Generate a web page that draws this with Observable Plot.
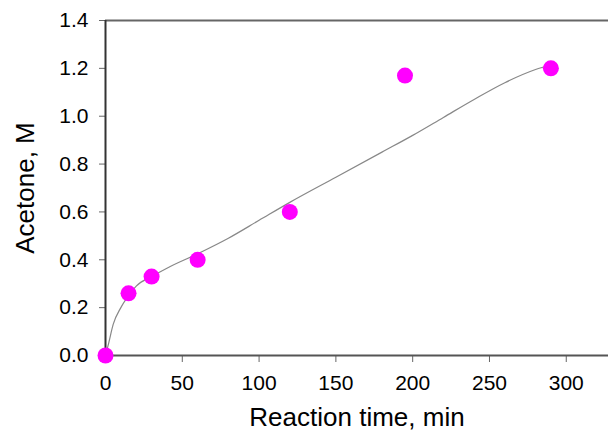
<!DOCTYPE html>
<html>
<head>
<meta charset="utf-8">
<script src="https://cdn.jsdelivr.net/npm/d3@7"></script>
<script src="https://cdn.jsdelivr.net/npm/@observablehq/plot@0.6"></script>
<style>
  html, body { margin: 0; padding: 0; background: #fff; }
</style>
</head>
<body>
<div id="chart"></div>
<script>
// Measured data points
const time = [0, 15, 30, 60, 120, 195, 290];
const acetone = [0, 0.26, 0.33, 0.40, 0.60, 1.17, 1.20];

// Fitted curve
const fitTime = [0, 2, 5, 10, 15, 20, 30, 40, 60, 80, 100, 120, 150, 180, 200, 220, 240, 260, 280, 290];
const fitAcetone = [0, 0.05, 0.13, 0.20, 0.25, 0.29, 0.33, 0.365, 0.425, 0.49, 0.565, 0.64, 0.745, 0.85, 0.92, 0.995, 1.07, 1.14, 1.195, 1.215];

// Ticks and labels
const xTicks = [0, 50, 100, 150, 200, 250, 300];
const yTicks = [0, 0.2, 0.4, 0.6, 0.8, 1.0, 1.2, 1.4];
const xLabel = "Reaction time, min";
const yLabel = "Acetone, M";

const points = time.map((t, i) => ({t, a: acetone[i]}));
const fit = fitTime.map((t, i) => ({t, a: fitAcetone[i]}));

const chart = Plot.plot({
  width: 608,
  height: 434,
  marginLeft: 105,
  marginRight: 0,
  marginTop: 20,
  marginBottom: 79,
  style: {fontFamily: "'Liberation Sans', Arial, sans-serif", fontSize: "21px", color: "#000", background: "#fff"},
  x: {domain: [0, 327.5]},
  y: {domain: [0, 1.4]},
  marks: [
    Plot.axisX({ticks: xTicks, tickSize: 7, tickPadding: 13, stroke: "#666", label: null, fontSize: 21, fill: "#000"}),
    Plot.axisY({ticks: yTicks, tickSize: 6, tickPadding: 11, stroke: "#666", label: null, fontSize: 21, fill: "#000", tickFormat: d => d.toFixed(1)}),
    Plot.ruleY([1.4], {stroke: "#666", strokeWidth: 2}),
    Plot.ruleY([0], {stroke: "#555", strokeWidth: 2}),
    Plot.ruleX([0], {stroke: "#333", strokeWidth: 2}),
    Plot.line(fit, {x: "t", y: "a", stroke: "#888", strokeWidth: 1.2, curve: "monotone-x"}),
    Plot.dot(points, {x: "t", y: "a", r: 8, fill: "#ff00ff", stroke: "none", clip: false}),
    Plot.text([xLabel], {frameAnchor: "bottom", dy: 62, lineAnchor: "middle", text: d => d, fontSize: 26, fill: "#000"}),
    Plot.text([yLabel], {frameAnchor: "left", dx: -80, rotate: -90, textAnchor: "middle", lineAnchor: "middle", text: d => d, fontSize: 26, fill: "#000"})
  ]
});
document.getElementById("chart").appendChild(chart);
</script>
</body>
</html>
